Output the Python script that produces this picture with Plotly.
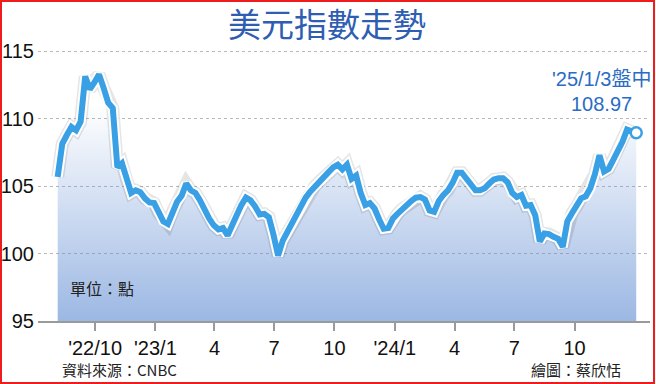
import pandas as pd
import plotly.graph_objects as go

# ---- data (weekly) ----
dates = pd.date_range("2022-08-05", "2025-01-03", freq="7D")
dxy = [105.7, 108.15, 108.8, 109.4, 109.15, 109.8, 113.15, 112.2, 112.7, 113.3,
       112.3, 111.2, 110.8, 106.4, 106.7, 105.5, 104.5, 104.7, 104.55, 104.1,
       103.8, 103.75, 103.0, 102.4, 102.2, 103.1, 103.85, 104.3, 105.2, 104.7,
       104.5, 103.95, 103.2, 102.6, 102.1, 101.8, 101.9, 101.35, 102.1, 103.0,
       103.6, 104.15, 103.95, 103.5, 102.9, 102.95, 102.7, 101.4, 99.85, 100.95,
       101.6, 102.2, 102.9, 103.55, 104.15, 104.6, 105.0, 105.35, 105.7, 106.05,
       106.4, 106.6, 106.25, 106.6, 105.55, 105.8, 104.5, 103.6, 103.75, 103.35,
       102.55, 101.85, 101.9, 102.6, 102.95, 103.3, 103.6, 103.9, 104.15, 104.2,
       104.0, 103.2, 103.1, 103.9, 104.35, 104.7, 105.25, 106.0, 106.0, 105.6,
       105.1, 104.7, 104.7, 104.85, 105.2, 105.5, 105.6, 105.6, 105.3, 104.5,
       104.2, 104.35, 103.55, 103.6, 102.85, 100.9, 101.5, 101.45, 101.25, 101.1,
       100.5, 102.4, 103.0, 103.5, 104.1, 104.25, 104.85, 105.9, 107.3, 106.1,
       106.3, 106.95, 107.6, 108.3, 109.2, 109.05, 108.97]

tick_dates = ["2022-10-01", "2023-01-01", "2023-04-01", "2023-07-01", "2023-10-01",
              "2024-01-01", "2024-04-01", "2024-07-01", "2024-10-01"]
tick_text = ["'22/10", "'23/1", "4", "7", "10", "'24/1", "4", "7", "10"]
y_ticks = [95, 100, 105, 110, 115]

LINE = "#39a0e6"
NARROW = "Liberation Sans Narrow, Liberation Sans, Arial"
CJK = "Noto Sans CJK TC, Noto Sans CJK SC, sans-serif"

fig = go.Figure()

# gradient area under the curve
fig.add_trace(go.Scatter(
    x=dates, y=dxy, mode="none", fill="tozeroy",
    fillgradient=dict(type="vertical",
                      colorscale=[[0, "rgba(95,140,210,0.62)"], [1, "rgba(95,140,210,0)"]],
                      start=95, stop=111),
    hoverinfo="skip", showlegend=False))

# soft shadow, white halo, blue line
fig.add_trace(go.Scatter(x=dates, y=dxy, mode="lines",
                         line=dict(color="rgba(0,0,0,0.10)", width=13),
                         hoverinfo="skip", showlegend=False))
fig.add_trace(go.Scatter(x=dates, y=dxy, mode="lines",
                         line=dict(color="white", width=10),
                         hoverinfo="skip", showlegend=False))
fig.add_trace(go.Scatter(x=dates, y=dxy, mode="lines",
                         line=dict(color=LINE, width=6),
                         showlegend=False))
# end point
fig.add_trace(go.Scatter(x=[dates[-1]], y=[dxy[-1]], mode="markers",
                         marker=dict(size=11, color="white",
                                     line=dict(color=LINE, width=2.5)),
                         showlegend=False))

fig.update_layout(
    width=656, height=384,
    margin=dict(l=38, r=6, t=38, b=63),
    paper_bgcolor="white", plot_bgcolor="white",
    title=dict(text="美元指數走勢", x=0.4985, y=0.935, xanchor="center", yanchor="middle",
               font=dict(family=CJK, size=33, color="#2e5db2")),
    xaxis=dict(type="date", range=["2022-07-06", "2025-01-24"],
               tickvals=tick_dates, ticktext=tick_text,
               ticks="outside", ticklen=8, tickwidth=1.5, tickcolor="#9a9a9a",
               showline=True, linecolor="#9a9a9a", linewidth=2,
               showgrid=False, zeroline=False, automargin=False,
               tickfont=dict(family=NARROW, size=20, color="#111")),
    yaxis=dict(range=[95, 116], tickvals=y_ticks,
               showgrid=True, gridcolor="#b8b8b8", gridwidth=1, griddash="3px,3px",
               zeroline=False, showline=False, ticks="", automargin=False,
               ticklabelstandoff=3,
               tickfont=dict(family=NARROW, size=20, color="#111")),
)

fig.add_annotation(text="'25/1/3盤中", xref="paper", yref="paper",
                   x=(601 - 38) / 612, y=(321 - 79) / 283, xanchor="center", yanchor="middle",
                   showarrow=False, font=dict(family=NARROW + ", " + CJK, size=20, color="#2a6cc4"))
fig.add_annotation(text=f"{dxy[-1]:.2f}", xref="paper", yref="paper",
                   x=(601 - 38) / 612, y=(321 - 104) / 283, xanchor="center", yanchor="middle",
                   showarrow=False, font=dict(family=NARROW, size=20, color="#2a6cc4"))
fig.add_annotation(text="單位：點", xref="paper", yref="paper",
                   x=(68 - 38) / 612, y=(321 - 288) / 283, xanchor="left", yanchor="middle",
                   showarrow=False, font=dict(family=CJK, size=16, color="#222"))
fig.add_annotation(text="資料來源：CNBC", xref="paper", yref="paper",
                   x=(60 - 38) / 612, y=(321 - 370) / 283, xanchor="left", yanchor="middle",
                   showarrow=False, font=dict(family=CJK, size=15, color="#222"))
fig.add_annotation(text="繪圖：蔡欣恬", xref="paper", yref="paper",
                   x=(623 - 38) / 612, y=(321 - 370) / 283, xanchor="right", yanchor="middle",
                   showarrow=False, font=dict(family=CJK, size=15, color="#222"))

# red frame around the graphic
fig.add_shape(type="rect", xref="paper", yref="paper",
              x0=(1 - 38) / 612, x1=(654 - 38) / 612,
              y0=(321 - 383) / 283, y1=(321 - 1) / 283,
              line=dict(color="#ee1c1c", width=2), fillcolor="rgba(0,0,0,0)", layer="above")

fig.write_html("out.html")
